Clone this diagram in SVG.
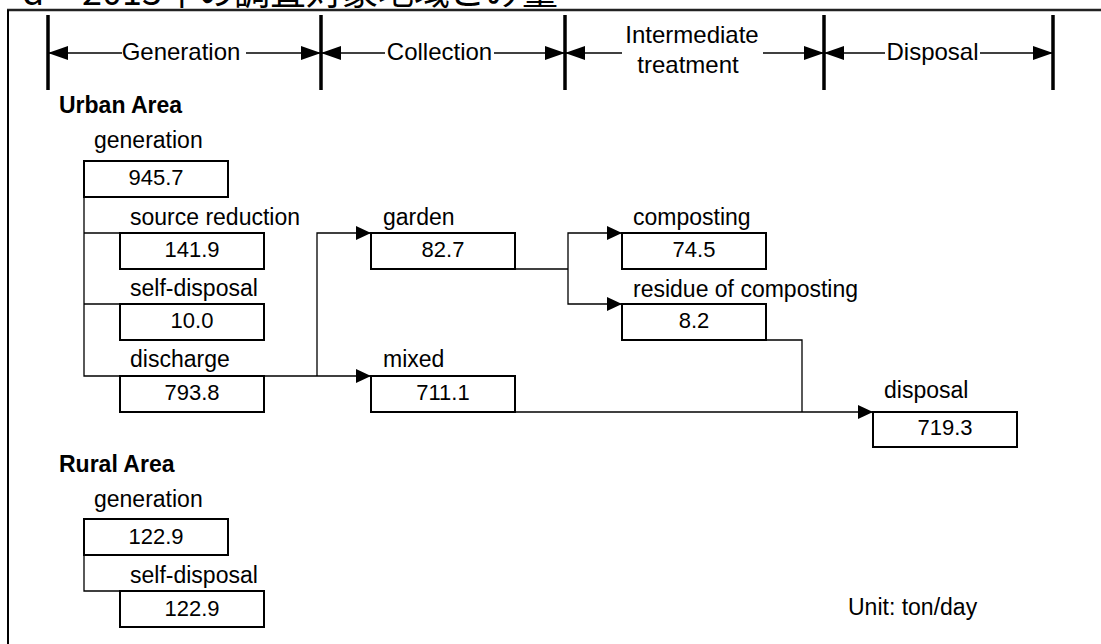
<svg xmlns="http://www.w3.org/2000/svg" width="1101" height="644" viewBox="0 0 1101 644">
<style>
.t{font-family:"Liberation Sans",Arial,sans-serif;font-size:23px;fill:#000}
.r{font-family:"Liberation Sans",Arial,sans-serif;font-size:24px;fill:#000}
.b{font-family:"Liberation Sans",Arial,sans-serif;font-size:23px;font-weight:bold;fill:#000}
.n{font-family:"Liberation Sans",Arial,sans-serif;font-size:22px;fill:#000;text-anchor:middle}
.box{fill:#fff;stroke:#000;stroke-width:2}
.ln{fill:none;stroke:#000;stroke-width:1.3}
.bar{stroke:#000;stroke-width:3.5}
.cap{font-family:"Noto Sans CJK JP","Liberation Sans",sans-serif;font-size:36px;fill:#000}
</style>
<defs>
<marker id="ra" markerUnits="userSpaceOnUse" markerWidth="20" markerHeight="14" refX="20" refY="7" orient="auto-start-reverse" viewBox="0 0 20 14"><path d="M0,0 L20,7 L0,14 z" fill="#000"/></marker>
<marker id="fa" markerUnits="userSpaceOnUse" markerWidth="15" markerHeight="14" refX="15" refY="7" orient="auto" viewBox="0 0 15 14"><path d="M0,0 L15,7 L0,14 z" fill="#000"/></marker>
</defs>
<rect width="1101" height="644" fill="#fff"/>
<text class="cap" y="5"><tspan x="22">d</tspan><tspan x="82">2013年の調査対象地域ごみ量</tspan></text>
<g id="frame">
<line x1="7" y1="10" x2="1101" y2="10" stroke="#222" stroke-width="2.5"/>
<line x1="8" y1="10" x2="8" y2="644" stroke="#000" stroke-width="2"/>
</g>
<g id="ruler">
<line class="bar" x1="48" y1="15" x2="48" y2="90"/>
<line class="bar" x1="321" y1="15" x2="321" y2="90"/>
<line class="bar" x1="565" y1="15" x2="565" y2="90"/>
<line class="bar" x1="824" y1="15" x2="824" y2="90"/>
<line class="bar" x1="1053" y1="15" x2="1053" y2="90"/>
<line class="ln" x1="48" y1="53" x2="122" y2="53" marker-start="url(#ra)"/>
<line class="ln" x1="246" y1="53" x2="321" y2="53" marker-end="url(#ra)"/>
<line class="ln" x1="321" y1="53" x2="385" y2="53" marker-start="url(#ra)"/>
<line class="ln" x1="494" y1="53" x2="565" y2="53" marker-end="url(#ra)"/>
<line class="ln" x1="565" y1="53" x2="622" y2="53" marker-start="url(#ra)"/>
<line class="ln" x1="763" y1="53" x2="824" y2="53" marker-end="url(#ra)"/>
<line class="ln" x1="824" y1="53" x2="885" y2="53" marker-start="url(#ra)"/>
<line class="ln" x1="980" y1="53" x2="1053" y2="53" marker-end="url(#ra)"/>
<text class="r" x="181" y="60" text-anchor="middle">Generation</text>
<text class="r" x="439.5" y="60" text-anchor="middle">Collection</text>
<text class="r" x="692" y="43" text-anchor="middle">Intermediate</text>
<text class="r" x="688" y="73" text-anchor="middle">treatment</text>
<text class="r" x="932.5" y="60" text-anchor="middle">Disposal</text>
</g>
<text class="b" x="59" y="113">Urban Area</text>
<text class="b" x="59" y="472">Rural Area</text>
<text class="t" x="848" y="615">Unit: ton/day</text>
<g id="connectors">
<path class="ln" d="M84,197 V376 H371" marker-end="url(#fa)"/>
<path class="ln" d="M84,233 H120"/>
<path class="ln" d="M84,304 H120"/>
<path class="ln" d="M317,376 V233 H371" marker-end="url(#fa)"/>
<path class="ln" d="M515,269 H568"/>
<path class="ln" d="M568,269 V233 H622" marker-end="url(#fa)"/>
<path class="ln" d="M568,269 V304 H622" marker-end="url(#fa)"/>
<path class="ln" d="M766,340 H802 V412"/>
<path class="ln" d="M515,412 H873" marker-end="url(#fa)"/>
<path class="ln" d="M84,555 V591 H120"/>
</g>
<g id="u-generation"><text class="t" x="94" y="148">generation</text><rect class="box" x="84" y="161" width="144" height="36"/><text class="n" x="156" y="185">945.7</text></g>
<g id="u-source-reduction"><text class="t" x="130" y="225">source reduction</text><rect class="box" x="120" y="233" width="144" height="36"/><text class="n" x="192" y="257">141.9</text></g>
<g id="u-self-disposal"><text class="t" x="130" y="296">self-disposal</text><rect class="box" x="120" y="304" width="144" height="36"/><text class="n" x="192" y="328">10.0</text></g>
<g id="u-discharge"><text class="t" x="130" y="367">discharge</text><rect class="box" x="120" y="376" width="144" height="36"/><text class="n" x="192" y="400">793.8</text></g>
<g id="garden"><text class="t" x="383" y="225">garden</text><rect class="box" x="371" y="233" width="144" height="36"/><text class="n" x="443" y="257">82.7</text></g>
<g id="mixed"><text class="t" x="383" y="367">mixed</text><rect class="box" x="371" y="376" width="144" height="36"/><text class="n" x="443" y="400">711.1</text></g>
<g id="composting"><text class="t" x="633" y="225">composting</text><rect class="box" x="622" y="233" width="144" height="36"/><text class="n" x="694" y="257">74.5</text></g>
<g id="residue"><text class="t" x="633" y="297">residue of composting</text><rect class="box" x="622" y="304" width="144" height="36"/><text class="n" x="694" y="328">8.2</text></g>
<g id="disposal"><text class="t" x="884" y="398">disposal</text><rect class="box" x="873" y="412" width="144" height="35"/><text class="n" x="945" y="435">719.3</text></g>
<g id="r-generation"><text class="t" x="94" y="507">generation</text><rect class="box" x="84" y="519" width="144" height="36"/><text class="n" x="156" y="544">122.9</text></g>
<g id="r-self-disposal"><text class="t" x="130" y="583">self-disposal</text><rect class="box" x="120" y="591" width="144" height="36"/><text class="n" x="192" y="616">122.9</text></g>
</svg>
